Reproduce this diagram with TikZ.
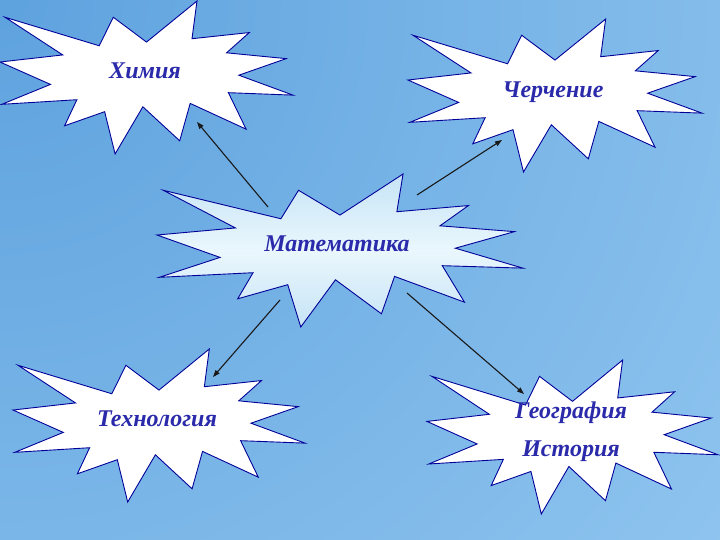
\documentclass[tikz,border=0pt]{standalone}
\usepackage{fontspec}
\setmainfont{Liberation Serif}
\usetikzlibrary{arrows.meta}
\definecolor{bginner}{HTML}{5EA2DE}
\definecolor{bgouter}{HTML}{9BCDF3}
\definecolor{edgeblue}{HTML}{000099}
\definecolor{txtblue}{HTML}{2A2AAA}
\definecolor{midA}{HTML}{C6E4F6}
\definecolor{midB}{HTML}{EAF7FD}
\newcommand\boomshape[5]{%
  \begin{scope}[shift={(#1,#2)}, xscale=#3, yscale=#4]
    \path[#5] (0.5000,0.2685) -- (0.6723,0) -- (0.6553,0.2465) -- (0.8509,0.2063)
      -- (0.7732,0.3387) -- (0.9767,0.3767) -- (0.8151,0.4850) -- (1,0.6153)
      -- (0.7795,0.5992) -- (0.8400,0.8377) -- (0.6491,0.6693) -- (0.6133,0.9138)
      -- (0.4876,0.6914) -- (0.3928,1) -- (0.3572,0.7235) -- (0.2205,0.8156)
      -- (0.2624,0.6452) -- (0.0063,0.6753) -- (0.1723,0.5451) -- (0,0.3988)
      -- (0.2142,0.3526) -- (0.0171,0.1063) -- (0.3385,0.2926) -- (0.3867,0.1063)
      -- cycle;
  \end{scope}}
\tikzset{
  boomwhite/.style={fill=white, draw=edgeblue, line width=0.9pt, line join=miter},
  boomcenter/.style={top color=midA, bottom color=midA, middle color=midB, draw=edgeblue, line width=0.9pt},
  lbl/.style={text=txtblue, font=\bfseries\itshape\fontsize{24}{38}\selectfont, align=center, inner sep=0pt},
  link/.style={line width=1.1pt, draw=black!90, -{Triangle[length=7pt,width=5pt]}}
}
\begin{document}
\begin{tikzpicture}[x=1pt,y=-1pt]
\useasboundingbox (0,0) rectangle (720,540);
\begin{scope}
  \clip (0,0) rectangle (720,540);
  \shade[inner color=bginner, outer color=bgouter] (0,0) circle (1150);
\end{scope}
\boomshape{0}{1}{293}{153}{boomwhite}
\boomshape{408}{19}{294}{153}{boomwhite}
\boomshape{157}{174}{366}{153}{boomcenter}
\boomshape{13}{349}{292}{153}{boomwhite}
\boomshape{427}{360}{291}{154}{boomwhite}
\node[lbl] (chem) at (145,71) {Химия};
\node[lbl] (draw) at (553,92) {Черчение};
\node[lbl] (math) at (337,244) {Математика};
\node[lbl] (tech) at (157,419) {Технология};
\node[lbl] (geo) at (571,432) {География\\История};
\coordinate (m1) at (268,207);
\coordinate (c1) at (197,122);
\coordinate (m2) at (417,195);
\coordinate (d2) at (502,140);
\coordinate (m3) at (280,300);
\coordinate (t3) at (213,377);
\coordinate (m4) at (407,293);
\coordinate (g4) at (524,394);
\draw[link] (m1) -- (c1);
\draw[link] (m2) -- (d2);
\draw[link] (m3) -- (t3);
\draw[link] (m4) -- (g4);
\end{tikzpicture}
\end{document}
